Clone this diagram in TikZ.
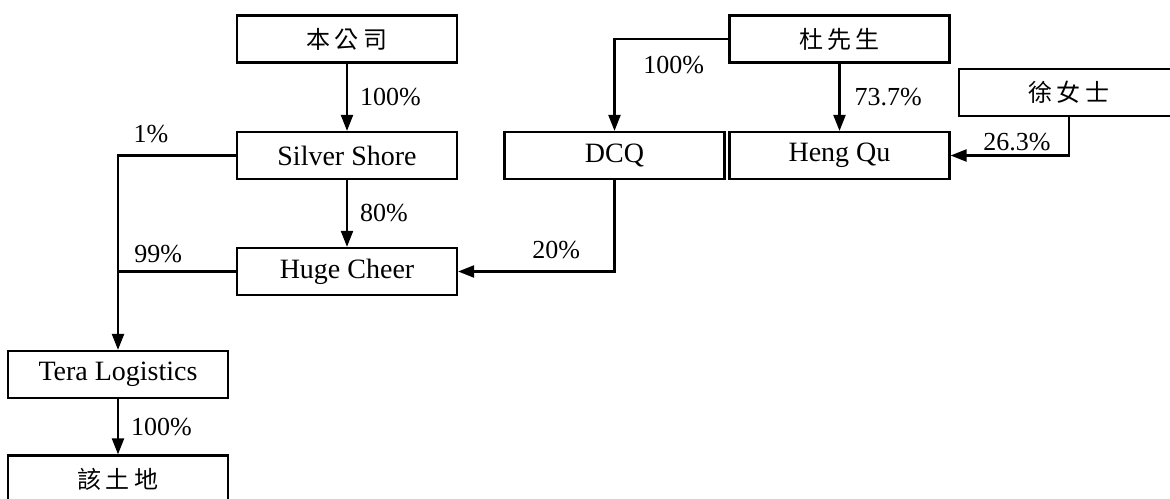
\documentclass[tikz,border=0pt]{standalone}
\usepackage{fontspec}
\setmainfont{Liberation Serif}
\newfontfamily\cjk[LetterSpace=18]{Noto Sans CJK TC}
\usetikzlibrary{arrows.meta,positioning}

\begin{document}
\begin{tikzpicture}[x=0.5pt, y=-0.5pt, line width=1.1pt,
    box/.style={draw, minimum width=110pt, minimum height=23.5pt, inner sep=0pt,
      font=\fontsize{14}{16}\selectfont},
    cnbox/.style={box, font=\cjk\fontsize{12}{14}\selectfont},
    own/.style={-{Triangle[length=8pt,width=6pt]}},
    pct/.style={font=\fontsize{13}{15}\selectfont, inner sep=1pt}]
  \useasboundingbox (0,0) rectangle (1170,498);
  \clip (0,0) rectangle (1170,498);

  % \node [box](gongsi) at (0,0) {};
  \node [cnbox](gongsi) at (347,39) {本公司};
  \node [box](silver) at (347,155.5) {Silver Shore};
  \node [box](huge) at (347,271.5) {Huge Cheer};
  \node [box](tera) at (118,374.5) {Tera Logistics};
  \node [cnbox](land) at (118,479) {該土地};

  \node [cnbox](du) at (839.5,39) {杜先生};
  \node [box](dcq) at (614.5,155.5) {DCQ};
  \node [box](hengqu) at (839.5,155.5) {Heng Qu};
  \node [cnbox](xu) at (1069,92.5) {徐女士};

  % shareholdings
  \draw [own] (gongsi) -- node[pct, midway, right=5pt] {100\%} (silver);
  \draw [own] (silver) -- node[pct, midway, right=5pt] {80\%} (huge);
  \draw [own] (silver.west) -| node[pct, pos=0.36, above=5pt] {1\%} (tera.north);
  \draw (huge.west) -- node[pct, pos=0.66, above=3pt] {99\%} (huge.west -| tera.north);
  \draw [own] (tera) -- node[pct, midway, right=5pt] {100\%} (land);

  \draw [own] (du.west) -| node[pct, pos=0.24, below=7pt] {100\%} (dcq.north);
  \draw [own] (du) -- node[pct, midway, right=6pt] {73.7\%} (hengqu);
  \draw [own] (xu.south) |- node[pct, pos=0.72, above=1pt] {26.3\%} (hengqu.east);
  \draw [own] (dcq.south) |- node[pct, pos=0.686, above=5pt] {20\%} (huge.east);
\end{tikzpicture}
\end{document}
